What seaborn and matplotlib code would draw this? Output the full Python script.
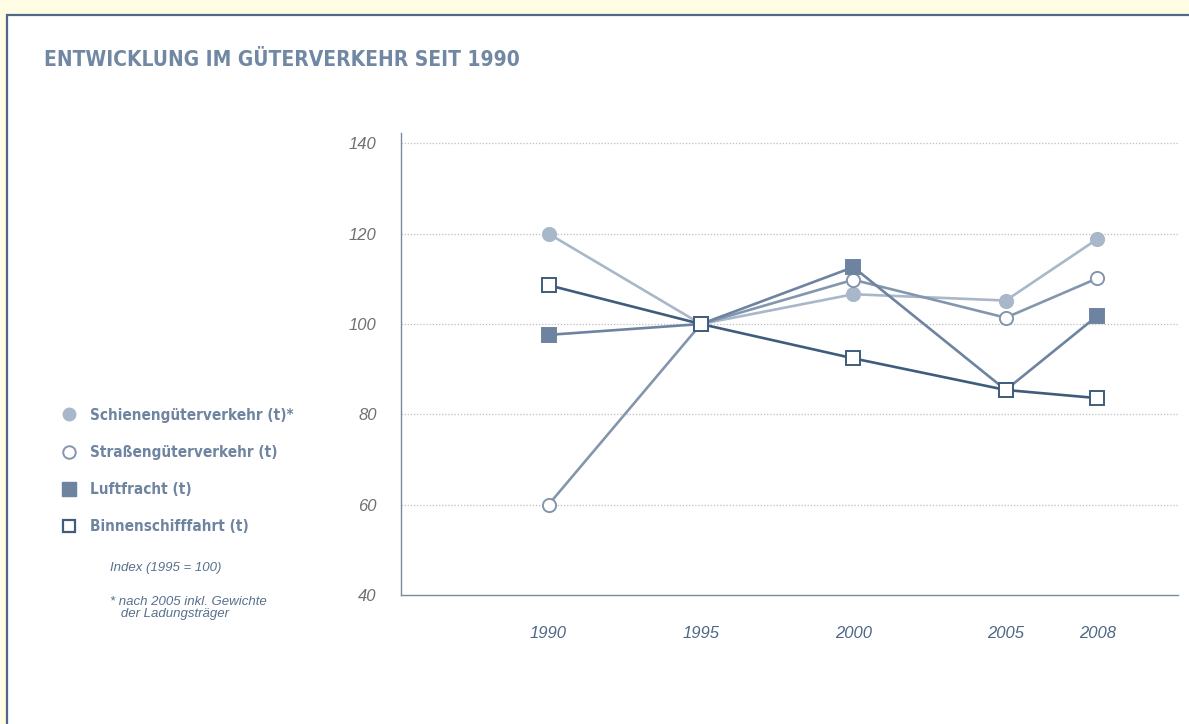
import numpy as np
import pandas as pd
import matplotlib
matplotlib.use("Agg")
import matplotlib.pyplot as plt
from matplotlib.lines import Line2D
from matplotlib.patches import Rectangle
from matplotlib import font_manager
import seaborn as sns

# data (Index 1995 = 100)
years = [1990, 1995, 2000, 2005, 2008]
schiene = [120.0, 100.0, 106.6, 105.2, 118.8]
strasse = [60.0, 100.0, 109.8, 101.4, 110.1]
luft = [97.6, 100.0, 112.6, 85.4, 101.8]
binnen = [108.6, 100.0, 92.4, 85.4, 83.6]
labels = ["Schienengüterverkehr (t)*", "Straßengüterverkehr (t)",
          "Luftfracht (t)", "Binnenschifffahrt (t)"]
yticks = [40, 60, 80, 100, 120, 140]

c_schiene = "#a9b7ca"
c_strasse = "#8396ae"
c_luft = "#6e839f"
c_binnen = "#3f5c7c"
c_title = "#7088a3"

sns.set_style("white")
plt.rcParams["font.family"] = ["Liberation Sans", "DejaVu Sans"]

fig = plt.figure(figsize=(11.89, 7.24), dpi=100, facecolor="#fffde3")
# white panel with blue-grey border (top/left visible)
fig.patches.append(Rectangle((7 / 1189, -0.05), 1.05, (724 - 15) / 724 + 0.05,
                             transform=fig.transFigure, facecolor="white",
                             edgecolor="#4f6986", linewidth=1.6, zorder=-5))

ax = fig.add_axes([401 / 1189, 1 - 595 / 724, (1178 - 401) / 1189, (595 - 133) / 724])
ax.set_facecolor("none")
ax.set_zorder(2)

series = [
    (schiene, c_schiene, "o", c_schiene, c_schiene),
    (strasse, c_strasse, "o", "white", c_strasse),
    (luft, c_luft, "s", c_luft, c_luft),
    (binnen, c_binnen, "s", "white", c_binnen),
]
for i, (vals, col, mk, fc, ec) in enumerate(series):
    sns.lineplot(x=years, y=vals, ax=ax, color=col, linewidth=1.9,
                 marker=mk, markersize=9.5,
                 markerfacecolor=fc, markeredgecolor=ec, markeredgewidth=1.4,
                 zorder=3 + i)

ax.set_xlim(1985.16, 2010.65)
ax.set_ylim(40, 142.3)
ax.set_xticks(years)
ax.set_xticklabels([str(y) for y in years])
ax.set_yticks(yticks)
for y in yticks[1:]:
    ax.axhline(y, color="#b9bfc6", linewidth=0.9, linestyle=(0, (1, 1.5)), zorder=1)
for s in ["top", "right"]:
    ax.spines[s].set_visible(False)
for s in ["left", "bottom"]:
    ax.spines[s].set_color("#7c8b99")
    ax.spines[s].set_linewidth(1.0)
ax.tick_params(axis="y", length=0, pad=17.5, labelsize=12, labelcolor="#707070")
ax.tick_params(axis="x", length=0, pad=22, labelsize=12, labelcolor="#4d6785")
for t in ax.get_xticklabels() + ax.get_yticklabels():
    t.set_fontstyle("italic")
for t in ax.get_yticklabels():
    t.set_verticalalignment("center_baseline")

fig.text(44 / 1189, 1 - 60 / 724, "ENTWICKLUNG IM GÜTERVERKEHR SEIT 1990",
         family="DejaVu Sans", fontstretch="condensed", fontweight="bold",
         fontsize=15, color=c_title, va="center")

handles = [
    Line2D([], [], linestyle="none", marker="o", markersize=9, color=c_schiene),
    Line2D([], [], linestyle="none", marker="o", markersize=9, markerfacecolor="white",
           markeredgecolor=c_strasse, markeredgewidth=1.4),
    Line2D([], [], linestyle="none", marker="s", markersize=9.5, color=c_luft),
    Line2D([], [], linestyle="none", marker="s", markersize=9, markerfacecolor="white",
           markeredgecolor=c_binnen, markeredgewidth=1.6),
]
leg = fig.legend(handles, labels, loc="center left",
                 bbox_to_anchor=(61 / 1189, 1 - 471 / 724), frameon=False,
                 borderpad=0, borderaxespad=0, handlelength=1.0, handletextpad=0.93,
                 labelspacing=1.45,
                 prop=font_manager.FontProperties(family="DejaVu Sans", stretch="condensed",
                                                  weight="bold", size=11))
for t in leg.get_texts():
    t.set_color("#6f84a0")

fig.text(110 / 1189, 1 - 568 / 724, "Index (1995 = 100)", fontsize=9.5,
         fontstyle="italic", color="#56708d", va="center")
fig.text(110 / 1189, 1 - 596 / 724, "* nach 2005 inkl. Gewichte\n   der Ladungsträger",
         fontsize=9.5, fontstyle="italic", color="#56708d", va="top", linespacing=1.0)

fig.savefig("out.png", dpi=100, facecolor=fig.get_facecolor())
